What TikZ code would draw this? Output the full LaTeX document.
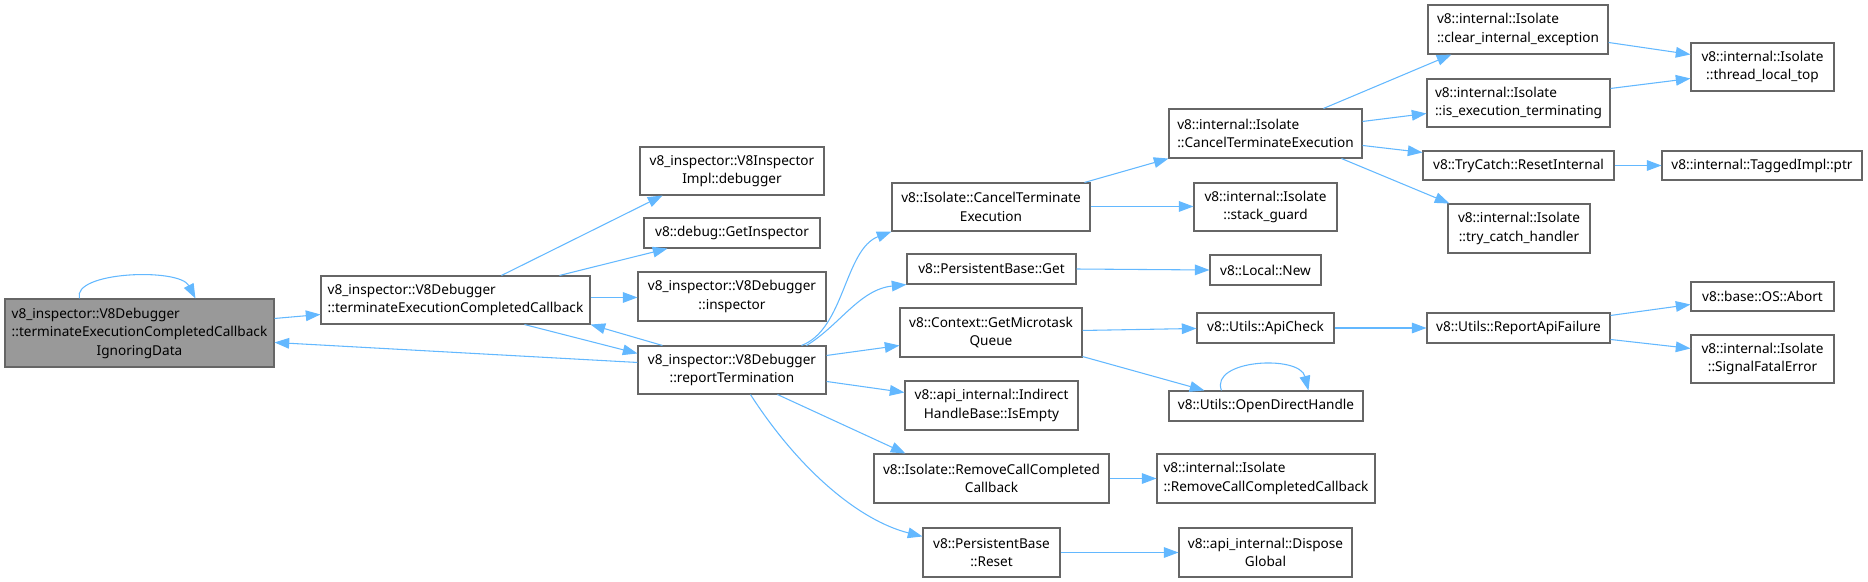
\documentclass[tikz,border=0pt]{standalone}
\usepackage{fontspec}
\setmainfont{Noto Sans}
\usetikzlibrary{arrows.meta,calc}
\definecolor{edgeblue}{HTML}{63B8FF}
\definecolor{nodeborder}{HTML}{666666}
\definecolor{rootfill}{HTML}{999999}
\tikzset{
  nbox/.style={draw=nodeborder, line width=0.8pt, fill=white, inner sep=0pt, align=center,
    font=\fontsize{10.2}{14}\selectfont, text=black},
  rootbox/.style={nbox, fill=rootfill},
  conn/.style={draw=edgeblue, line width=0.8pt, -{Triangle[length=11pt,width=8pt]}},
}
\newcommand\bx[7][]{\node[nbox,#1,minimum width={(#5-#3)*0.75pt},minimum height={(#6-#4)*0.75pt}] (#2) at ({(#3+#5)/2},{(#4+#6)/2}) {#7};}
\begin{document}
\begin{tikzpicture}[x=0.75pt,y=-0.75pt]
\useasboundingbox (0,0) rectangle (1868,582);
% nodes
\bx[rootbox]{root}{5}{299}{274}{367}{\begin{tabular}{@{}l@{}}v8\_inspector::V8Debugger\\::terminateExecutionCompletedCallback\\\multicolumn{1}{@{}c@{}}{IgnoringData}\end{tabular}}
\bx[align=left]{B}{321}{276}{590}{324}{v8\_inspector::V8Debugger\\::terminateExecutionCompletedCallback}
\bx{InspImpl}{640}{147}{824}{195}{v8\_inspector::V8Inspector\\Impl::debugger}
\bx{GetInsp}{644}{218}{820}{248}{v8::debug::GetInspector}
\bx{inspector}{638}{272}{826}{321}{v8\_inspector::V8Debugger\\::inspector}
\bx{rep}{638}{346}{826}{394}{v8\_inspector::V8Debugger\\::reportTermination}
\bx{CancelT}{892}{183}{1090}{231}{v8::Isolate::CancelTerminate\\Execution}
\bx{PBGet}{907}{254}{1076}{284}{v8::PersistentBase::Get}
\bx{GetMicro}{900}{308}{1082}{357}{v8::Context::GetMicrotask\\Queue}
\bx{IsEmpty}{905}{381}{1078}{430}{v8::api\_internal::Indirect\\HandleBase::IsEmpty}
\bx{RemoveCC}{874}{454}{1109}{503}{v8::Isolate::RemoveCallCompleted\\Callback}
\bx{PBReset}{923}{528}{1060}{577}{v8::PersistentBase\\::Reset}
\bx[align=left]{IntCancel}{1169}{109}{1362}{158}{v8::internal::Isolate\\::CancelTerminateExecution}
\bx{StackGuard}{1194}{183}{1337}{231}{v8::internal::Isolate\\::stack\_guard}
\bx{LocalNew}{1210}{255}{1321}{285}{v8::Local::New}
\bx{ApiCheck}{1197}{313}{1334}{343}{v8::Utils::ApiCheck}
\bx{OpenDH}{1169}{391}{1363}{421}{v8::Utils::OpenDirectHandle}
\bx[align=left]{IsoRemove}{1157}{454}{1375}{503}{v8::internal::Isolate\\::RemoveCallCompletedCallback}
\bx{Dispose}{1179}{528}{1352}{577}{v8::api\_internal::Dispose\\Global}
\bx[align=left]{Clear}{1428}{5}{1608}{54}{v8::internal::Isolate\\::clear\_internal\_exception}
\bx[align=left]{IsExec}{1427}{79}{1610}{127}{v8::internal::Isolate\\::is\_execution\_terminating}
\bx{TryCatch}{1423}{151}{1614}{180}{v8::TryCatch::ResetInternal}
\bx{TCH}{1448}{204}{1590}{253}{v8::internal::Isolate\\::try\_catch\_handler}
\bx{RAF}{1427}{313}{1610}{343}{v8::Utils::ReportApiFailure}
\bx{TLT}{1691}{43}{1834}{91}{v8::internal::Isolate\\::thread\_local\_top}
\bx{Tagged}{1662}{151}{1862}{180}{v8::internal::TaggedImpl::ptr}
\bx{Abort}{1691}{282}{1834}{311}{v8::base::OS::Abort}
\bx{Signal}{1691}{335}{1834}{383}{v8::internal::Isolate\\::SignalFatalError}
% connectors
\draw[conn] ($(root.north west)+(75,0)$) .. controls ($(root.north west)+(67,-27)$) and ($(root.north west)+(175,-31)$) .. ($(root.north west)+(191,0)$);
\draw[conn] ($(root.north east)+(0,20)$) -- ($(B.north west)+(0,39)$);
\draw[conn] ($(rep.north west)+(0,17)$) -- ($(root.north east)+(0,44)$);
\draw[conn] ($(B.north west)+(181,0)$) -- ($(InspImpl.south west)+(23,0)$);
\draw[conn] ($(B.north west)+(239,0)$) -- ($(GetInsp.south west)+(24,0)$);
\draw[conn] ($(B.north east)+(0,22)$) -- ($(inspector.north west)+(0,26)$);
\draw[conn] ($(B.south west)+(204,0)$) -- ($(rep.north west)+(0,8)$);
\draw[conn] ($(rep.north west)+(25,0)$) -- (B.south east);
\draw[conn] ($(rep.north west)+(164,0)$) .. controls ($(rep.north west)+(207,-16)$) and ($(rep.north west)+(207,-96)$) .. (CancelT.south west);
\draw[conn] ($(rep.north west)+(169,0)$) .. controls ($(rep.north west)+(202,-20)$) and ($(rep.north west)+(222,-56)$) .. (PBGet.south west);
\draw[conn] ($(rep.north east)+(0,10)$) -- ($(GetMicro.north west)+(0,38)$);
\draw[conn] ($(rep.north east)+(0,36)$) -- ($(IsEmpty.north west)+(0,12)$);
\draw[conn] ($(rep.south west)+(140,0)$) -- ($(RemoveCC.north west)+(32,0)$);
\draw[conn] ($(rep.south west)+(113,0)$) .. controls ($(rep.south west)+(162,76)$) and ($(rep.south west)+(222,126)$) .. ($(PBReset.north west)+(0,9)$);
\draw[conn] ($(CancelT.north west)+(193,0)$) -- (IntCancel.south west);
\draw[conn] ($(CancelT.north east)+(0,24)$) -- ($(StackGuard.north west)+(0,24)$);
\draw[conn] (PBGet.east) -- (LocalNew.west);
\draw[conn] ($(GetMicro.north east)+(0,23)$) -- ($(ApiCheck.north west)+(0,16)$);
\draw[conn] ($(GetMicro.south east)+(0,-1)$) -- ($(OpenDH.north west)+(36,0)$);
\draw[conn] ($(OpenDH.north west)+(53,0)$) .. controls ($(OpenDH.north west)+(41,-31)$) and ($(OpenDH.north west)+(131,-36)$) .. ($(OpenDH.north west)+(140,0)$);
\draw[conn] (ApiCheck.east) -- (RAF.west);
\draw[conn] ($(RAF.north east)+(0,3)$) -- ($(Abort.north west)+(0,23)$);
\draw[conn] ($(RAF.north east)+(0,27)$) -- ($(Signal.north west)+(0,14)$);
\draw[conn] ($(IntCancel.north west)+(155,0)$) -- ($(Clear.south west)+(24,0)$);
\draw[conn] ($(IntCancel.north east)+(0,13)$) -- ($(IsExec.north west)+(0,35)$);
\draw[conn] ($(IntCancel.north east)+(0,37)$) -- ($(TryCatch.north west)+(0,2)$);
\draw[conn] ($(IntCancel.south west)+(173,0)$) -- ($(TCH.north west)+(2,0)$);
\draw[conn] ($(Clear.north east)+(0,38)$) -- ($(TLT.north west)+(0,12)$);
\draw[conn] ($(IsExec.north east)+(0,10)$) -- ($(TLT.north west)+(0,36)$);
\draw[conn] (TryCatch.east) -- (Tagged.west);
\draw[conn] (RemoveCC.east) -- (IsoRemove.west);
\draw[conn] (PBReset.east) -- (Dispose.west);
\end{tikzpicture}
\end{document}
